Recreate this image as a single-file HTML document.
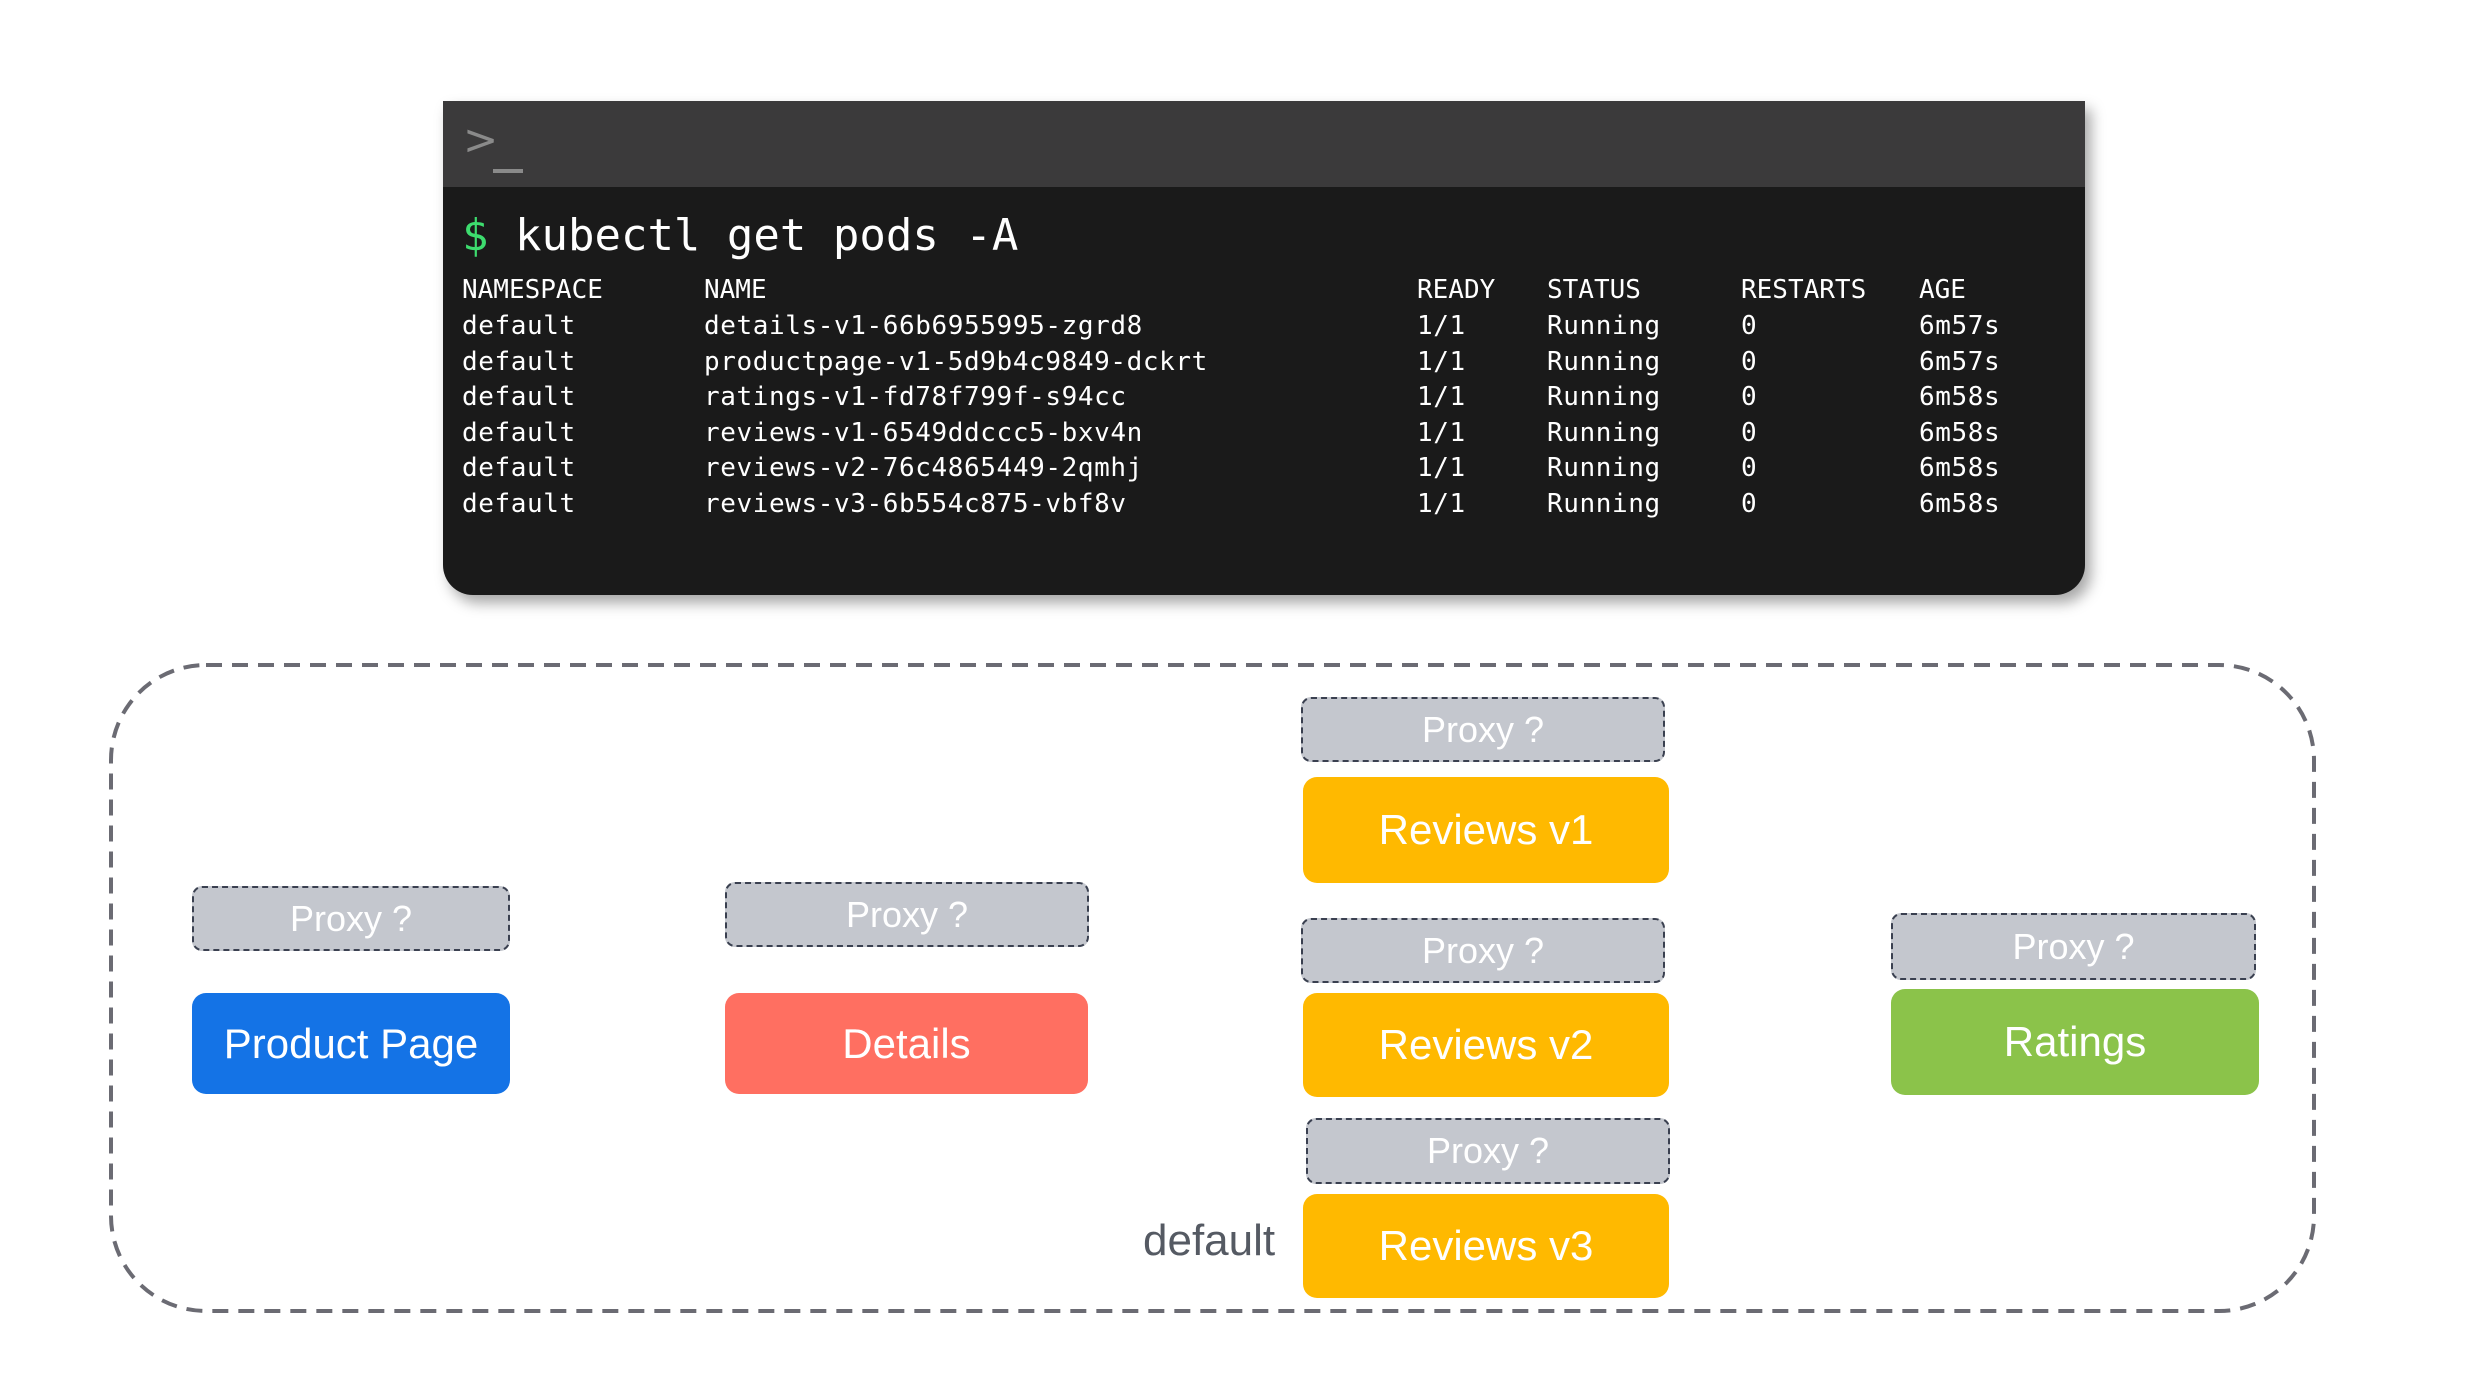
<!DOCTYPE html>
<html><head><style>
body{margin:0;width:2481px;height:1385px;background:#fff;position:relative;overflow:hidden;font-family:"Liberation Sans",sans-serif}
.a{position:absolute}
.term{left:443px;top:101px;width:1642px;height:494px;background:#1a1a1a;border-radius:0 0 30px 30px;box-shadow:6px 8px 14px rgba(0,0,0,.35);overflow:hidden}
.hdr{position:absolute;left:0;top:0;width:100%;height:86px;background:#3b3a3b}
.mono{font-family:"DejaVu Sans Mono","Liberation Mono",monospace;color:#fff;white-space:pre}
.row{position:absolute;font-size:26px;line-height:30px}
.t{font-size:26px;line-height:35.6px;letter-spacing:0.6px}
.px{position:absolute;background:#c4c7ce;border:2px dashed #3a4050;border-radius:10px;box-sizing:border-box;color:#fff;font-size:36px;display:flex;align-items:center;justify-content:center}
.nd{position:absolute;border-radius:14px;color:#fff;font-size:42px;display:flex;align-items:center;justify-content:center}
.y{background:#ffb900}
</style></head><body>
<div class="a term">
 <div class="hdr"><span class="a" style="left:20px;top:14px;color:#8a8a8a;font-size:42px;font-family:'DejaVu Sans',sans-serif">&gt;</span><div class="a" style="left:50px;top:68px;width:30px;height:4px;background:#8a8a8a"></div></div>
</div>
<div class="a mono" style="left:462px;top:207px;font-size:44px;line-height:58px"><span style="color:#3ddc6e">$</span> kubectl get pods -A</div>
<div class="a mono" style="left:0;top:0;width:2481px">
<div class="row" style="left:462px;top:275px">NAMESPACE</div><div class="row" style="left:704px;top:275px">NAME</div><div class="row" style="left:1417px;top:275px">READY</div><div class="row" style="left:1547px;top:275px">STATUS</div><div class="row" style="left:1741px;top:275px">RESTARTS</div><div class="row" style="left:1919px;top:275px">AGE</div>
</div>
<div class="a mono t" style="left:462px;top:309px">default
default
default
default
default
default</div>
<div class="a mono t" style="left:704px;top:309px">details-v1-66b6955995-zgrd8
productpage-v1-5d9b4c9849-dckrt
ratings-v1-fd78f799f-s94cc
reviews-v1-6549ddccc5-bxv4n
reviews-v2-76c4865449-2qmhj
reviews-v3-6b554c875-vbf8v</div>
<div class="a mono t" style="left:1417px;top:309px">1/1
1/1
1/1
1/1
1/1
1/1</div>
<div class="a mono t" style="left:1547px;top:309px">Running
Running
Running
Running
Running
Running</div>
<div class="a mono t" style="left:1741px;top:309px">0
0
0
0
0
0</div>
<div class="a mono t" style="left:1919px;top:309px">6m57s
6m57s
6m58s
6m58s
6m58s
6m58s</div>

<svg class="a" style="left:0;top:0" width="2481" height="1385"><rect x="111" y="665" width="2203" height="646" rx="95" fill="none" stroke="#6b6b73" stroke-width="4" stroke-dasharray="16 10"/></svg>

<div class="px" style="left:192px;top:886px;width:318px;height:65px">Proxy ?</div>
<div class="nd" style="left:192px;top:993px;width:318px;height:101px;background:#1473e6">Product Page</div>
<div class="px" style="left:725px;top:882px;width:364px;height:65px">Proxy ?</div>
<div class="nd" style="left:725px;top:993px;width:363px;height:101px;background:#ff6f61">Details</div>
<div class="px" style="left:1301px;top:697px;width:364px;height:65px">Proxy ?</div>
<div class="nd y" style="left:1303px;top:777px;width:366px;height:106px">Reviews v1</div>
<div class="px" style="left:1301px;top:918px;width:364px;height:65px">Proxy ?</div>
<div class="nd y" style="left:1303px;top:993px;width:366px;height:104px">Reviews v2</div>
<div class="px" style="left:1306px;top:1118px;width:364px;height:66px">Proxy ?</div>
<div class="nd y" style="left:1303px;top:1194px;width:366px;height:104px">Reviews v3</div>
<div class="px" style="left:1891px;top:913px;width:365px;height:67px">Proxy ?</div>
<div class="nd" style="left:1891px;top:989px;width:368px;height:106px;background:#8bc34a">Ratings</div>
<div class="a" style="left:1143px;top:1214px;font-size:44px;color:#555a63;line-height:54px">default</div>
</body></html>
